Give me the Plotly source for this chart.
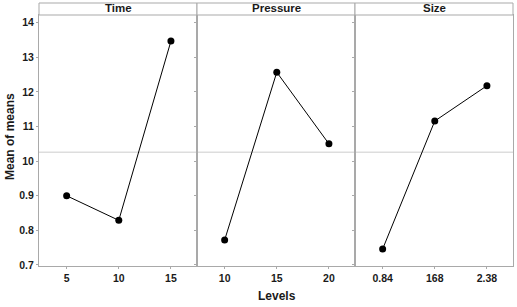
import plotly.graph_objects as go
from plotly.subplots import make_subplots

factors = ["Time", "Pressure", "Size"]
level_labels = [["5", "10", "15"], ["10", "15", "20"], ["0.84", "168", "2.38"]]
means = [[0.900, 0.829, 1.347], [0.772, 1.257, 1.050], [0.746, 1.116, 1.218]]
grand_mean = 1.026
y_ticks = [0.7, 0.8, 0.9, 1.0, 1.1, 1.2, 1.3, 1.4]
y_ticktext = ["0.7", "0.8", "0.9", "10", "11", "12", "13", "14"]

FRAME = "#a9a9a9"
REF = "#cccccc"
FONT = "Liberation Sans"
TXT = "#1a1a1a"

fig = make_subplots(rows=1, cols=3, shared_yaxes=True, horizontal_spacing=0)

W, H = 517, 307
# plot area in window pixels: x 39..513, y 15..266
ml, mr, mt, mb = 39, 4, 15, 41
ph = H - mt - mb
pw = W - ml - mr
strip_top = 1 + 12 / ph


def px_x(x):
    return (x - ml) / pw


def px_y(y):
    return (H - mb - y) / ph


for i, (f, labs, vals) in enumerate(zip(factors, level_labels, means)):
    col = i + 1
    xs = list(range(1, len(vals) + 1))
    fig.add_trace(go.Scatter(x=xs, y=vals, mode="lines+markers",
                             line=dict(color="black", width=1),
                             marker=dict(color="black", size=7),
                             showlegend=False, hoverinfo="skip"), row=1, col=col)
    fig.update_xaxes(range=[0.47, 3.5], tickvals=xs, ticktext=labs,
                     showgrid=False, zeroline=False, showline=True, mirror=True,
                     linecolor=FRAME, linewidth=1, ticks="outside", ticklen=2,
                     tickcolor=FRAME, automargin=False,
                     tickfont=dict(family=FONT, size=10.5, color=TXT, weight="bold"),
                     row=1, col=col)
    xref = "x" if col == 1 else f"x{col}"
    fig.add_shape(type="line", xref=f"{xref} domain", yref="y",
                  x0=0, x1=1, y0=grand_mean, y1=grand_mean,
                  line=dict(color=REF, width=1), layer="below")
    fig.add_shape(type="rect", xref=f"{xref} domain", yref="paper",
                  x0=0, x1=1, y0=1, y1=strip_top,
                  line=dict(color=FRAME, width=1), fillcolor="white")
    fig.add_annotation(text=f"<b>{f}</b>", xref=f"{xref} domain", yref="paper",
                       x=0.5, y=(1 + strip_top) / 2 + 1 / ph, showarrow=False,
                       font=dict(family=FONT, size=11.5, color=TXT),
                       yanchor="middle")

fig.update_yaxes(range=[0.697, 0.697 + ph / 346.0], tickvals=y_ticks,
                 ticktext=y_ticktext, showgrid=False, zeroline=False,
                 showline=True, mirror=True, linecolor=FRAME, linewidth=1,
                 ticks="outside", ticklen=2, tickcolor=FRAME, automargin=False,
                 tickfont=dict(family=FONT, size=10.5, color=TXT, weight="bold"))

fig.add_annotation(text="<b>Mean of means</b>", xref="paper", yref="paper",
                   x=px_x(10), y=px_y(137), showarrow=False,
                   textangle=-90, xanchor="center", yanchor="middle",
                   font=dict(family=FONT, size=12, color=TXT))

fig.add_annotation(text="<b>Levels</b>", xref="paper", yref="paper",
                   x=px_x(277), y=px_y(296), showarrow=False,
                   yanchor="middle",
                   font=dict(family=FONT, size=12, color=TXT))

fig.update_layout(width=W, height=H, margin=dict(l=ml, r=mr, t=mt, b=mb),
                  plot_bgcolor="white", paper_bgcolor="white")

fig.write_html("out.html", config={"displayModeBar": False},
               post_script="document.body.style.margin='0';"
                           "document.body.style.overflow='hidden';")
